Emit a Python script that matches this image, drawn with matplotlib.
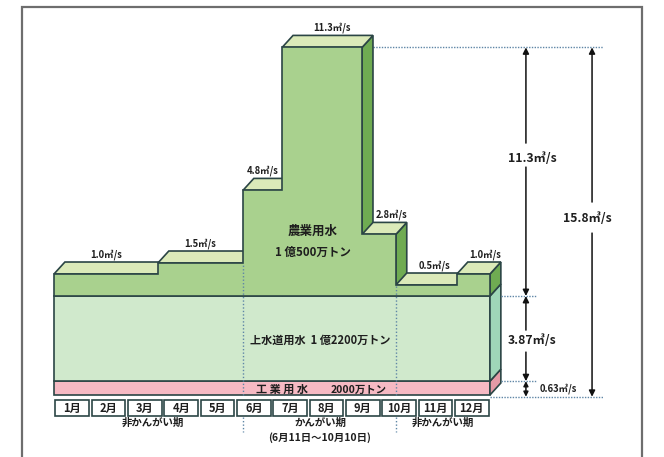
import matplotlib
matplotlib.use('Agg')
import matplotlib.pyplot as plt
from matplotlib.patches import Polygon, Rectangle

plt.rcParams['font.family'] = ['Noto Sans CJK JP', 'DejaVu Sans']
plt.rcParams['font.weight'] = 'bold'

# ---------------- data ----------------
months = [f'{i}月' for i in range(1, 13)]
period_edges = [0, 2.86, 5.2, 6.28, 8.48, 9.41, 11.09, 12]   # in months
agri_flow = [1.0, 1.5, 4.8, 11.3, 2.8, 0.5, 1.0]            # m3/s
industrial_flow = 0.63
water_flow = 3.87
agri_peak = 11.3
total_flow = 15.8
agri_label = ['農業用水', '1 億500万トン']
water_label = '上水道用水  1 億2200万トン'
industrial_label = ['工 業 用 水', '2000万トン']
season_labels = ['非かんがい期', 'かんがい期', '非かんがい期']
irrigation_note = '(6月11日～10月10日)'
irrigation_bounds = [5.2, 9.41]
unit = '㎥/s'

# ---------------- style ----------------
EDGE = '#2b4545'
AG_FRONT = '#a9d18e'
AG_TOP = '#dbeab9'
AG_SIDE = '#6fab52'
WA_FRONT = '#d0e9cc'
WA_SIDE = '#9fd6b8'
IN_FRONT = '#f6b9c3'
IN_SIDE = '#e49aa6'
DOT = '#5f86a6'
TXT = '#1e1e1e'
DX, DY = 0.30, 0.545
LW = 1.2

fig = plt.figure(figsize=(6.64, 4.57), dpi=100)
ax = fig.add_axes([0, 0, 1, 1])
ax.set_xlim(-54 / 36.33, (664 - 54) / 36.33)
ax.set_ylim(-62 / 22, (457 - 62) / 22)
ax.axis('off')

# outer frame
fig.add_artist(Rectangle((22 / 664, -0.02), 620 / 664, 1.0 - 7 / 457 + 0.02,
                         transform=fig.transFigure, fill=False, ec='#6e6e6e', lw=1.6))

base = industrial_flow + water_flow

# industrial layer
ax.add_patch(Rectangle((0, 0), 12, industrial_flow, fc=IN_FRONT, ec=EDGE, lw=LW, zorder=2))
ax.add_patch(Polygon([(12, 0), (12 + DX, DY), (12 + DX, industrial_flow + DY), (12, industrial_flow)],
                     closed=True, fc=IN_SIDE, ec=EDGE, lw=LW, zorder=2))
# water supply layer
ax.add_patch(Rectangle((0, industrial_flow), 12, water_flow, fc=WA_FRONT, ec=EDGE, lw=LW, zorder=2))
ax.add_patch(Polygon([(12, industrial_flow), (12 + DX, industrial_flow + DY),
                      (12 + DX, base + DY), (12, base)],
                     closed=True, fc=WA_SIDE, ec=EDGE, lw=LW, zorder=2))

# agriculture: side and top faces, left to right
z = 3
for i, h in enumerate(agri_flow):
    x0, x1 = period_edges[i], period_edges[i + 1]
    top = base + h
    ax.add_patch(Polygon([(x1, base), (x1 + DX, base + DY), (x1 + DX, top + DY), (x1, top)],
                         closed=True, fc=AG_SIDE, ec=EDGE, lw=LW, zorder=z))
    ax.add_patch(Polygon([(x0, top), (x1, top), (x1 + DX, top + DY), (x0 + DX, top + DY)],
                         closed=True, fc=AG_TOP, ec=EDGE, lw=LW, zorder=z + 0.5))
    z += 1

# agriculture front face (step polygon)
pts = [(0, base)]
for i, h in enumerate(agri_flow):
    pts.append((period_edges[i], base + h))
    pts.append((period_edges[i + 1], base + h))
pts.append((12, base))
ax.add_patch(Polygon(pts, closed=True, fc=AG_FRONT, ec=EDGE, lw=LW, zorder=z + 1))

# irrigation period dotted lines
for xb in irrigation_bounds:
    idx = max(i for i in range(len(agri_flow)) if period_edges[i] <= xb + 1e-6)
    if abs(period_edges[idx] - xb) < 1e-6 and idx > 0:
        htop = min(agri_flow[idx], agri_flow[idx - 1])
    else:
        htop = agri_flow[idx]
    ax.plot([xb, xb], [0, base + htop], ls=(0, (1, 1.5)), color=DOT, lw=1, zorder=z + 2)
    ax.plot([xb, xb], [-0.98, -1.7], ls=(0, (1, 1.5)), color=DOT, lw=1, zorder=z + 2)

# flow labels on top of steps
label_x = [1.43, 4.02, 5.75, 7.65, 9.28, 10.46, 11.86]
for h, lx in zip(agri_flow, label_x):
    ax.text(lx, base + h + DY + 0.1, f'{h:.1f}{unit}', ha='center', va='bottom',
            fontsize=6.8, color=TXT, zorder=20)

# inner labels
ax.text(7.13, 7.45, agri_label[0], ha='center', va='center', fontsize=9, color=TXT, zorder=20)
ax.text(7.13, 6.5, agri_label[1], ha='center', va='center', fontsize=8.3, color=TXT, zorder=20)
ax.text(7.32, 2.5, water_label, ha='center', va='center', fontsize=8, color=TXT, zorder=20)
ax.text(6.28, 0.24, industrial_label[0], ha='center', va='center', fontsize=8, color=TXT, zorder=20)
ax.text(8.38, 0.24, industrial_label[1], ha='center', va='center', fontsize=7.5, color=TXT, zorder=20)

# month boxes
for i, m in enumerate(months):
    ax.add_patch(Rectangle((i + 0.04, -0.955), 0.92, 0.73, fc='white', ec=EDGE, lw=LW, zorder=5))
    ax.text(i + 0.5, -0.59, m, ha='center', va='center', fontsize=8, color=TXT, zorder=6)

ax.text(2.72, -1.27, season_labels[0], ha='center', va='center', fontsize=7.5, color=TXT)
ax.text(7.32, -1.27, season_labels[1], ha='center', va='center', fontsize=7.5, color=TXT)
ax.text(7.32, -1.92, irrigation_note, ha='center', va='center', fontsize=7.5, color=TXT)
ax.text(10.71, -1.27, season_labels[2], ha='center', va='center', fontsize=7.5, color=TXT)

# dimension guide lines
peak_idx = agri_flow.index(agri_peak)
ax.plot([period_edges[peak_idx + 1] + DX, 15.1], [total_flow, total_flow], ls=(0, (1, 1)), color=DOT, lw=1)
ax.plot([12 + DX, 13.3], [base, base], ls=(0, (1, 1)), color=DOT, lw=1)
ax.plot([12 + DX, 13.3], [industrial_flow, industrial_flow], ls=(0, (1, 1)), color=DOT, lw=1)
ax.plot([12, 15.1], [-0.08, -0.08], ls=(0, (1, 1)), color=DOT, lw=1)


def arrow(x, y0, y1):
    ax.annotate('', xy=(x, y1), xytext=(x, y0),
                arrowprops=dict(arrowstyle='-|>', color='#111', lw=1.1,
                                mutation_scale=9, shrinkA=0, shrinkB=0))


xa = 12.99
arrow(xa, 11.45, base + agri_peak)
arrow(xa, 10.36, base)
ax.text(13.16, 10.77, f'{agri_peak}{unit}', ha='center', va='center', fontsize=8.8, color=TXT)
arrow(xa, 2.95, base)
arrow(xa, 1.95, industrial_flow)
ax.text(13.16, 2.5, f'{water_flow}{unit}', ha='center', va='center', fontsize=8.8, color=TXT)
ax.annotate('', xy=(xa, -0.08), xytext=(xa, industrial_flow),
            arrowprops=dict(arrowstyle='<|-|>', color='#111', lw=1.1, mutation_scale=7,
                            shrinkA=0, shrinkB=0))
ax.text(13.87, 0.27, f'{industrial_flow}{unit}', ha='center', va='center', fontsize=6.8, color=TXT)

xb2 = 14.81
arrow(xb2, 8.77, total_flow)
arrow(xb2, 7.36, -0.08)
ax.text(14.67, 8.0, f'{total_flow}{unit}', ha='center', va='center', fontsize=8.8, color=TXT)

fig.savefig('out.png', dpi=100)
